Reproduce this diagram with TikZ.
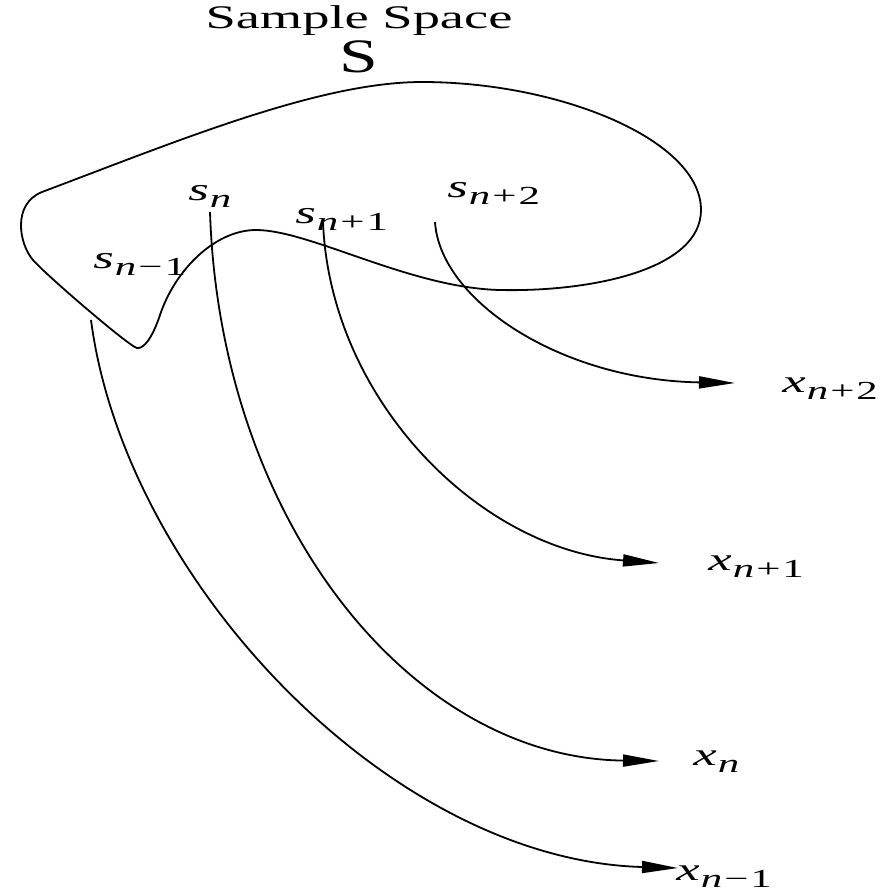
\documentclass[tikz,border=0pt]{standalone}
\usepackage{fontspec}
\setmainfont{Liberation Serif}[FakeStretch=1.65]
\newfontfamily\itf{Liberation Serif Italic}[FakeStretch=1.65]
\newfontfamily\bigSfont{Liberation Serif}[FakeStretch=1.45]
\usetikzlibrary{arrows.meta}
\newcommand\mylbl[2]{{\fontsize{16}{16}\itf #1}\kern0.5pt\raisebox{-3.5pt}{\fontsize{13}{13}\selectfont{\itf n}#2}}
\tikzset{
  lbl/.style={inner sep=0pt, anchor=base west},
  curve/.style={line width=0.9pt},
  mapar/.style={line width=0.9pt, -{Triangle[length=18pt,width=6pt]}},
}
\begin{document}
\begin{tikzpicture}[x=0.5pt,y=-0.5pt]
\useasboundingbox (0,0) rectangle (886,890);
% titles
\node[inner sep=0pt, anchor=base] (title) at (359,28) {\fontsize{16.5}{16.5}\selectfont Sample Space};
\node[inner sep=0pt, anchor=base] (bigS) at (359,72) {\fontsize{24}{24}\bigSfont S};
% blob (sample space)
\draw[curve] (42,192) .. controls (180,140) and (320,82) .. (422,82)
  .. controls (560,82) and (701,140) .. (701,210)
  .. controls (701,270) and (590,292) .. (500,290)
  .. controls (410,288) and (310,230) .. (256,230)
  .. controls (215,230) and (175,270) .. (160,315)
  .. controls (152.5,337.5) and (144,349) .. (137,348)
  .. controls (130,347) and (47,276) .. (33,260)
  .. controls (19,244) and (12,204) .. (42,192) -- cycle;
% labels
\node[lbl] (sn)   at (188,200) {\mylbl{s}{}};
\node[lbl] (sn1)  at (295,223) {\mylbl{s}{\kern1pt+\kern1pt1}};
\node[lbl] (sn2)  at (447,197) {\mylbl{s}{\kern1pt+\kern1pt2}};
\node[lbl] (snm1) at (93,268)  {\mylbl{s}{\kern1pt−\kern1pt1}};
\node[lbl] (xn2)  at (782,392) {\mylbl{x}{\kern1pt+\kern1pt2}};
\node[lbl] (xn1)  at (708,570) {\mylbl{x}{\kern1pt+\kern1pt1}};
\node[lbl] (xn)   at (693,765) {\mylbl{x}{}};
\node[lbl] (xnm1) at (676,880) {\mylbl{x}{\kern1pt−\kern1pt1}};
% start and end points of the mappings
\coordinate (a1) at (91,320);  \coordinate (t1) at (678,868);
\coordinate (a2) at (210,212); \coordinate (t2) at (659,761);
\coordinate (a3) at (323,222); \coordinate (t3) at (659,563);
\coordinate (a4) at (435,222); \coordinate (t4) at (735,383);
% mappings
\draw[mapar] (a1) .. controls (125,580) and (390,860) .. (t1);
\draw[mapar] (a2) .. controls (220,520) and (410,758) .. (t2);
\draw[mapar] (a3) .. controls (330,400) and (480,550) .. (t3);
\draw[mapar] (a4) .. controls (440,300) and (560,380) .. (t4);
\end{tikzpicture}
\end{document}
